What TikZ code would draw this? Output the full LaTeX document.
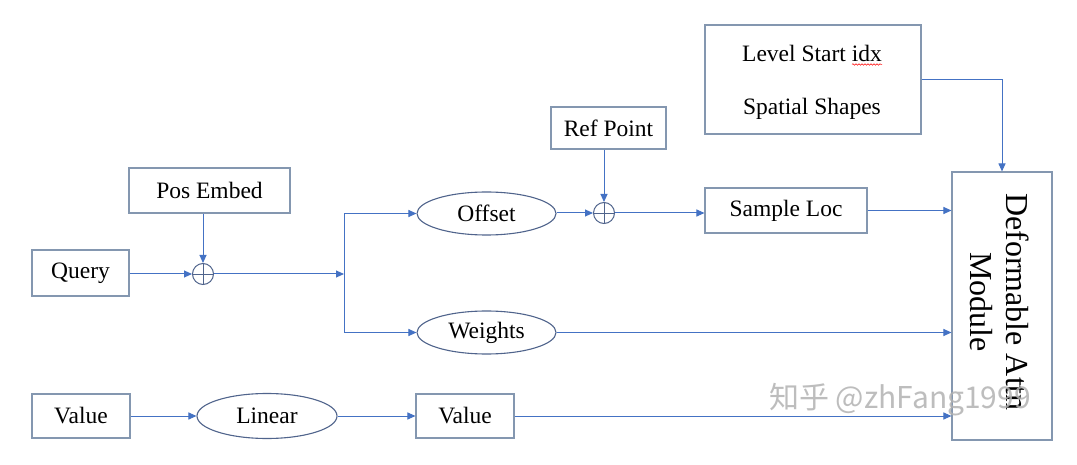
\documentclass[tikz,border=0pt]{standalone}
\usepackage{fontspec}
\setmainfont{Liberation Serif}
\newfontfamily\cjk{Noto Sans CJK SC}
\usetikzlibrary{shapes.geometric,arrows.meta,decorations.pathmorphing}
\definecolor{boxc}{RGB}{132,151,176}
\definecolor{arrc}{RGB}{68,114,196}
\definecolor{ellc}{RGB}{80,100,140}
\tikzset{
  boxn/.style={draw=boxc,line width=1.1pt,rectangle,inner sep=0pt,font=\fontsize{23.5}{27}\selectfont},
  elln/.style={draw=ellc,line width=1.1pt,ellipse,inner sep=0pt,minimum width=139pt,minimum height=43pt,font=\fontsize{23.5}{27}\selectfont},
  plusn/.style={draw=ellc,line width=1pt,circle,inner sep=0pt,minimum size=21pt,
    path picture={\draw[ellc,line width=0.9pt] (path picture bounding box.north) -- (path picture bounding box.south)
      (path picture bounding box.west) -- (path picture bounding box.east);}},
  conn/.style={draw=arrc,line width=1pt,-{Triangle[length=8pt,width=7pt]}},
}
\begin{document}
\begin{tikzpicture}[x=1pt,y=-1pt]
\useasboundingbox[fill=white] (0,0) rectangle (1077,465);
% nodes
\node[boxn,minimum width=97pt,minimum height=46pt] (query) at (80.5,273) {Query};
\node[boxn,minimum width=161pt,minimum height=45pt] (pos) at (209.5,190.5) {Pos Embed};
\node[plusn] (p1) at (203,274) {};
\coordinate (j) at (344,274);
\node[elln] (offset) at (486.5,213.5) {Offset};
\node[elln] (weights) at (486.5,332.5) {Weights};
\node[boxn,minimum width=115pt,minimum height=42pt] (ref) at (608.5,128) {Ref Point};
\node[plusn] (p2) at (604,213) {};
\node[boxn,minimum width=162pt,minimum height=45pt] (sample) at (786,210.5) {Sample Loc};
\node[boxn,minimum width=216pt,minimum height=109pt] (top) at (813,79.5) {};
\node[font=\fontsize{23.5}{27}\selectfont] (lvl) at (812,53) {Level Start idx};
\node[font=\fontsize{23.5}{27}\selectfont] (sps) at (812,109) {Spatial Shapes};
\draw[red,line width=0.5pt,decorate,decoration={snake,amplitude=0.8pt,segment length=3pt}] (852,64.5) -- (882,64.5);
\node[boxn,minimum width=100pt,minimum height=268pt] (deform) at (1002,306) {};
\node[rotate=-90,align=center,font=\fontsize{32}{36}\selectfont] (dtext) at (1000,302) {Deformable Attn\\Module};
\node[boxn,minimum width=98pt,minimum height=44pt] (v1) at (81,416) {Value};
\node[elln,minimum width=140pt,minimum height=45pt] (linear) at (267,416) {Linear};
\node[boxn,minimum width=98pt,minimum height=44pt] (v2) at (465,416) {Value};
% connectors
\draw[conn] (query.east |- p1.west) -- (p1.west);
\draw[conn] (p1.north |- pos.south) -- (p1.north);
\draw[conn] (p1.east) -- (j);
\draw[conn] (j) |- (offset.west);
\draw[conn] (j) |- (weights.west);
\draw[conn] (offset.east |- p2.west) -- (p2.west);
\draw[conn] (p2.north |- ref.south) -- (p2.north);
\draw[conn] (p2.east) -- (sample.west |- p2.east);
\draw[conn] (sample.east) -- (sample.east -| deform.west);
\draw[conn] (weights.east) -- (weights.east -| deform.west);
\draw[conn] (top.east) -| (deform.north);
\draw[conn] (v1.east) -- (linear.west);
\draw[conn] (linear.east) -- (v2.west);
\draw[conn] (v2.east) -- (v2.east -| deform.west);
% watermark
\node[text=gray!60,opacity=0.85,font=\cjk\fontsize{30}{34}\selectfont] (wm) at (900,400) {知乎 @zhFang1999};
\end{tikzpicture}
\end{document}
